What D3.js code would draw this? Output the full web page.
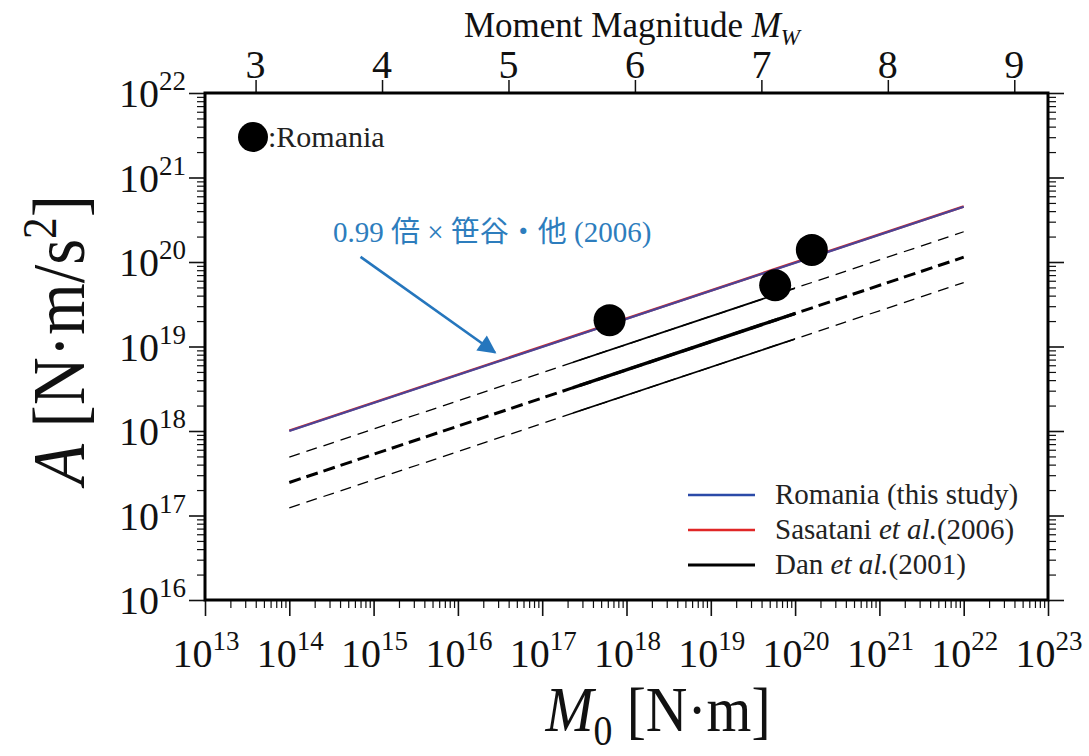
<!DOCTYPE html>
<html>
<head>
<meta charset="utf-8">
<script src="https://cdn.jsdelivr.net/npm/d3@7"></script>
<style>
  body { margin: 0; background: #fff; }
  svg { font-family: "Liberation Serif", "Noto Sans CJK JP", serif; }
</style>
</head>
<body>
<div id="chart"></div>
<script>
// --- data ---
const romaniaM0 = [6.3e17, 5.8e19, 1.58e20];
const romaniaA = [2.05e19, 5.3e19, 1.39e20];

// straight lines in log-log space: [M0, A] end points
const romaniaLine = [[1e14, 1.0e18], [1e22, 4.5e20]];
const sasataniLine = [[1e14, 1.01e18], [1e22, 4.55e20]];
const danLines = [
  [[1e14, 4.9e17], [1e22, 2.28e20]],
  [[1e14, 2.46e17], [1e22, 1.14e20]],
  [[1e14, 1.23e17], [1e22, 5.7e19]]
];
const danSolidRange = [2.3e17, 1.0e20];

const xExponents = [13, 14, 15, 16, 17, 18, 19, 20, 21, 22, 23];
const yExponents = [16, 17, 18, 19, 20, 21, 22];
const mwTicks = [3, 4, 5, 6, 7, 8, 9];
const legendLabels = [
  ["Romania (this study)"],
  ["Sasatani ", "et al.", "(2006)"],
  ["Dan ", "et al.", "(2001)"]
];
const arrowPts = [[7e14, 1.15e20], [2.75e16, 8.5e18]];

// --- layout ---
const width = 1089, height = 756;
const L = 205, R = 1048, T = 93, B = 600;

const svg = d3.select("#chart").append("svg")
  .attr("width", width).attr("height", height);

const x = d3.scaleLog().domain([1e13, 1e23]).range([L, R]);
const y = d3.scaleLog().domain([1e16, 1e22]).range([B, T]);
// Mw = (log10 M0 - 9.1) / 1.5
const xMw = d3.scaleLinear().domain([(13 - 9.1) / 1.5, (23 - 9.1) / 1.5]).range([L, R]);

const defs = svg.append("defs");
defs.append("clipPath").attr("id", "solidClip")
  .append("rect")
  .attr("x", x(danSolidRange[0])).attr("y", T)
  .attr("width", x(danSolidRange[1]) - x(danSolidRange[0]))
  .attr("height", B - T);
defs.append("marker")
  .attr("id", "arrowHead")
  .attr("viewBox", "0 0 10 10")
  .attr("refX", 9).attr("refY", 5)
  .attr("markerWidth", 10).attr("markerHeight", 7)
  .attr("markerUnits", "strokeWidth")
  .attr("orient", "auto")
  .append("path").attr("d", "M0,0 L10,5 L0,10 Z").attr("fill", "#2576bd");

// minor + major tick values
function logTicks(lo, hi) {
  const out = [];
  for (let e = lo; e < hi; e++) {
    for (let m = 1; m < 10; m++) out.push(m * Math.pow(10, e));
  }
  out.push(Math.pow(10, hi));
  return out;
}
const isMajor = v => Math.abs(Math.log10(v) - Math.round(Math.log10(v))) < 1e-9;

function styleTicks(g, horiz, sign) {
  g.select(".domain").remove();
  g.selectAll(".tick line")
    .attr("stroke", "#111")
    .attr("stroke-width", d => isMajor(d) ? 1.6 : 1.2)
    .attr(horiz ? "y2" : "x2", d => sign * (isMajor(d) ? 16 : 8));
  g.selectAll(".tick text").remove();
}

svg.append("g").attr("transform", `translate(0,${B})`)
  .call(d3.axisBottom(x).tickValues(logTicks(13, 23)).tickSize(8))
  .call(g => styleTicks(g, true, 1));
svg.append("g").attr("transform", `translate(${L},0)`)
  .call(d3.axisLeft(y).tickValues(logTicks(16, 22)).tickSize(8))
  .call(g => styleTicks(g, false, -1));
svg.append("g").attr("transform", `translate(${R},0)`)
  .call(d3.axisRight(y).tickValues(logTicks(16, 22)).tickSize(8))
  .call(g => styleTicks(g, false, 1));
svg.append("g").attr("transform", `translate(0,${T})`)
  .call(d3.axisTop(xMw).tickValues(mwTicks).tickSize(13).tickFormat(""))
  .call(g => {
    g.select(".domain").remove();
    g.selectAll(".tick line").attr("stroke", "#111").attr("stroke-width", 1.5);
  });

// tick labels with superscripts
const xl = svg.append("g").selectAll("text").data(xExponents).enter().append("text")
  .attr("x", d => x(Math.pow(10, d)) + 1).attr("y", 667)
  .attr("text-anchor", "middle").attr("font-size", 40).attr("fill", "#111");
xl.append("tspan").text("10");
xl.append("tspan").attr("dy", -17).attr("font-size", 27).text(d => d);

const yl = svg.append("g").selectAll("text").data(yExponents).enter().append("text")
  .attr("x", 186).attr("y", d => y(Math.pow(10, d)) + 14)
  .attr("text-anchor", "end").attr("font-size", 40).attr("fill", "#111");
yl.append("tspan").text("10");
yl.append("tspan").attr("dy", -17).attr("font-size", 27).text(d => d);

svg.append("g").selectAll("text").data(mwTicks).enter().append("text")
  .attr("x", d => xMw(d)).attr("y", 78)
  .attr("text-anchor", "middle").attr("font-size", 40).attr("fill", "#111")
  .text(d => d);

// axis titles
const topTitle = svg.append("text").attr("x", 632).attr("y", 37)
  .attr("text-anchor", "middle").attr("font-size", 35).attr("fill", "#111");
topTitle.append("tspan").text("Moment Magnitude ");
topTitle.append("tspan").attr("font-style", "italic").text("M");
topTitle.append("tspan").attr("font-style", "italic").attr("font-size", 23).attr("dy", 8).text("W");

const xTitle = svg.append("text")
  .attr("transform", "translate(658,731) scale(0.9,1)")
  .attr("text-anchor", "middle").attr("font-size", 64).attr("fill", "#111");
xTitle.append("tspan").attr("font-style", "italic").text("M");
xTitle.append("tspan").attr("font-size", 42).attr("dy", 14).text("0");
xTitle.append("tspan").attr("dy", -14).text(" [N·m]");

const yTitle = svg.append("text")
  .attr("transform", "translate(84,340) rotate(-90) scale(0.9,1)")
  .attr("text-anchor", "middle").attr("font-size", 74).attr("fill", "#111");
yTitle.append("tspan").attr("font-style", "italic").text("A");
yTitle.append("tspan").text(" [N·m/s");
yTitle.append("tspan").attr("font-size", 48).attr("dy", -28).text("2");
yTitle.append("tspan").attr("dy", 28).text("]");

// lines
const line = d3.line().x(d => x(d[0])).y(d => y(d[1]));
const plot = svg.append("g");

const danWidths = [1.3, 3, 1.3];
const danDash = ["11 7", "12 6", "11 7"];
plot.selectAll("path.danDash").data(danLines).enter().append("path")
  .attr("class", "danDash")
  .attr("d", line).attr("fill", "none").attr("stroke", "#000")
  .attr("stroke-width", (d, i) => danWidths[i])
  .attr("stroke-dasharray", (d, i) => danDash[i]);
plot.selectAll("path.danSolid").data(danLines).enter().append("path")
  .attr("class", "danSolid")
  .attr("clip-path", "url(#solidClip)")
  .attr("d", line).attr("fill", "none").attr("stroke", "#000")
  .attr("stroke-width", (d, i) => danWidths[i] + 0.4);

plot.append("path").attr("d", line(sasataniLine))
  .attr("fill", "none").attr("stroke", "#d62a2a").attr("stroke-width", 2.6);
plot.append("path").attr("d", line(romaniaLine))
  .attr("fill", "none").attr("stroke", "#3f46a0").attr("stroke-width", 2.2)
  .attr("stroke-opacity", 0.92);

// points
plot.selectAll("circle.pt").data(romaniaM0).enter().append("circle")
  .attr("class", "pt")
  .attr("cx", d => x(d)).attr("cy", (d, i) => y(romaniaA[i]))
  .attr("r", 16).attr("fill", "#000");

// frame
svg.append("rect").attr("x", L).attr("y", T)
  .attr("width", R - L).attr("height", B - T)
  .attr("fill", "none").attr("stroke", "#000").attr("stroke-width", 3);

// marker key
svg.append("circle").attr("cx", 253).attr("cy", 137).attr("r", 15).attr("fill", "#000");
svg.append("text").attr("x", 268).attr("y", 147)
  .attr("font-size", 30).attr("fill", "#222").text(":Romania");

// annotation
svg.append("text").attr("x", 333).attr("y", 242)
  .attr("font-size", 29).attr("fill", "#2d7dbd")
  .text("0.99 倍 × 笹谷・他 (2006)");
svg.append("line")
  .attr("x1", x(arrowPts[0][0])).attr("y1", y(arrowPts[0][1]))
  .attr("x2", x(arrowPts[1][0])).attr("y2", y(arrowPts[1][1]))
  .attr("stroke", "#2576bd").attr("stroke-width", 2.6)
  .attr("marker-end", "url(#arrowHead)");

// legend
const legendColors = ["#2b4aa8", "#e02626", "#000"];
const lg = svg.append("g").selectAll("g").data(legendLabels).enter().append("g")
  .attr("transform", (d, i) => `translate(688,${495 + i * 35})`);
lg.append("line").attr("x1", 0).attr("x2", 67)
  .attr("stroke", (d, i) => legendColors[i])
  .attr("stroke-width", (d, i) => i === 2 ? 3 : 2.5);
const lt = lg.append("text").attr("x", 87).attr("y", 9)
  .attr("font-size", 29).attr("fill", "#222");
lt.selectAll("tspan").data(d => d).enter().append("tspan")
  .attr("font-style", (d, i) => i === 1 ? "italic" : null)
  .text(d => d);
</script>
</body>
</html>
